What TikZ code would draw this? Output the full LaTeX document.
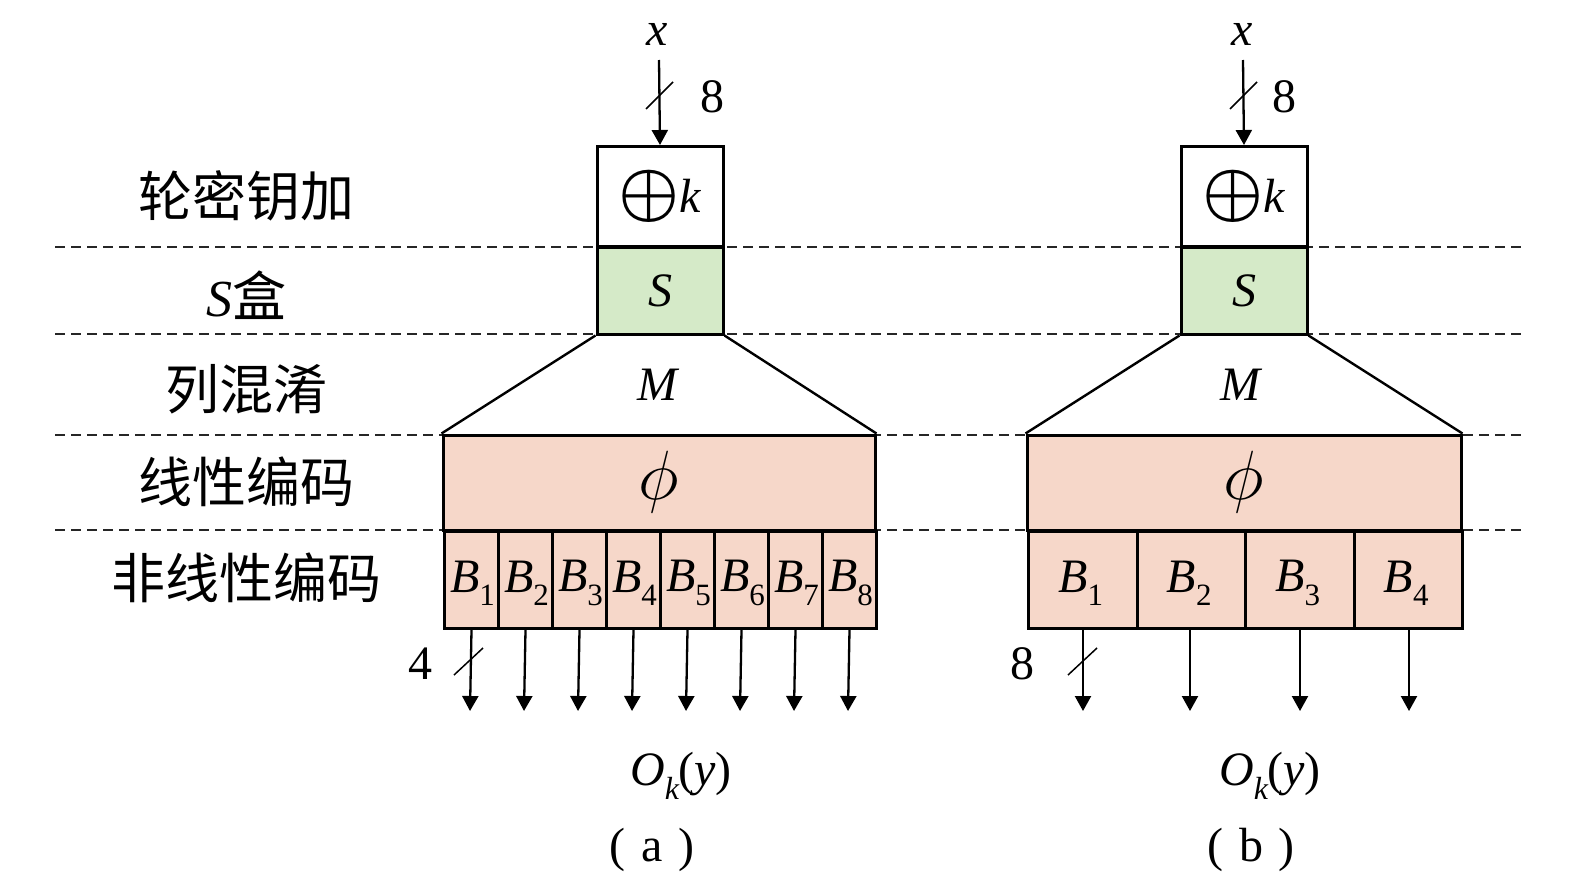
\documentclass[tikz,border=0pt]{standalone}
\usepackage{fontspec}
\setmainfont{Liberation Serif}
\newfontfamily\cjk{Noto Sans CJK SC}
\usetikzlibrary{arrows.meta}
\definecolor{sgreen}{RGB}{213,234,200}
\definecolor{salmon}{RGB}{246,215,201}
\newcommand{\fs}[1]{\fontsize{#1}{#1}\selectfont}
\newcommand{\Bsub}[2][31]{\textit{B}\raisebox{-0.28em}{\fs{#1}#2}}
\newcommand{\myoplus}{\raisebox{-0.03em}{\scalebox{2.75}{$\boldsymbol{\oplus}$}}}
\newcommand{\myphi}{\scalebox{2.8}{$\phi$}}
\usepackage{amsmath}
\begin{document}
\begin{tikzpicture}[x=1pt,y=-1pt,
  box/.style={draw=black,line width=3pt,inner sep=0pt,font=\fs{48}},
  sep/.style={draw=black!85,line width=2.5pt,dash pattern=on 10pt off 6pt},
  arr/.style={line width=2.3pt,-{Triangle[width=16pt,length=15pt]}},
  lab/.style={font=\cjk\fs{54},inner sep=0pt},
  txt/.style={font=\fs{48},inner sep=0pt}]
\useasboundingbox (0,0) rectangle (1575,886);
% layer separators
\foreach \yy in {247,334,435,530}
  \draw[sep] (55,\yy) -- (1522,\yy);
% layer labels
\node[lab] (l1) at (246,196) {轮密钥加};
\node[lab] (l2) at (246,295) {{\rmfamily\itshape\fs{52}S}盒};
\node[lab] (l3) at (246,389) {列混淆};
\node[lab] (l4) at (246,482) {线性编码};
\node[lab] (l5) at (246,578) {非线性编码};

% ---------- panel (a) ----------
\node[box,fill=white,minimum width=126pt,minimum height=100pt] (kA) at (660,196.5) {\myoplus\kern-1pt\textit{k}};
\node[box,fill=sgreen,minimum width=126pt,minimum height=87pt] (sA) at (660,290.5) {\textit{S}};
\node[box,fill=salmon,minimum width=432pt,minimum height=95pt] (pA) at (659,482.5) {\myphi};
\draw[line width=2.4pt] (sA.south west) -- (pA.north west);
\draw[line width=2.4pt] (sA.south east) -- (pA.north east);
\node[txt] (mA) at (659,385) {\textit{M}};
\foreach \i in {1,...,8}{
  \node[box,fill=salmon,minimum width=54pt,minimum height=97pt,anchor=north west] (bA\i) at ({443+(\i-1)*54},530) {};
  \node[txt] at ([xshift=1pt,yshift=-3pt]bA\i.center) {\Bsub{\i}};
  \coordinate (oA\i) at ({470+(\i-1)*54},711);
  \draw[arr] (bA\i.south) -- (oA\i);
}
\node[txt] (xA) at (657,34) {\textit{x}};
\coordinate (inA) at (kA.north);
\draw[arr] (659,60) -- (inA);
\draw[line width=1.5pt] (646,109) -- (673,82);
\node[txt] (nA) at (712,97) {8};
\draw[line width=1.5pt] (454,675) -- (483,648);
\node[txt] (fA) at (420,664) {4};
\node[txt] (OA) at (681,776) {\textit{O}\raisebox{-0.3em}{\fs{32}\textit{k}}\kern-1pt(\textit{y})};
\node[txt] (cA) at (652,850) {(\hspace{0.33em}a\hspace{0.33em})};

% ---------- panel (b) ----------
\node[box,fill=white,minimum width=126pt,minimum height=100pt] (kB) at (1244,196.5) {\myoplus\kern-1pt\textit{k}};
\node[box,fill=sgreen,minimum width=126pt,minimum height=87pt] (sB) at (1244,290.5) {\textit{S}};
\node[box,fill=salmon,minimum width=434pt,minimum height=95pt] (pB) at (1244,482.5) {\myphi};
\draw[line width=2.4pt] (sB.south west) -- (pB.north west);
\draw[line width=2.4pt] (sB.south east) -- (pB.north east);
\node[txt] (mB) at (1242,385) {\textit{M}};
\foreach \i in {1,...,4}{
  \node[box,fill=salmon,minimum width=108.5pt,minimum height=97pt,anchor=north west] (bB\i) at ({1027+(\i-1)*108.5},530) {};
  \node[txt] at ([xshift=-2pt,yshift=-3pt]bB\i.center) {\Bsub{\i}};
}
\coordinate (oB1) at (1083,711);
\coordinate (oB2) at (1190,711);
\coordinate (oB3) at (1300,711);
\coordinate (oB4) at (1409,711);
\foreach \i in {1,...,4}
  \draw[arr] (oB\i |- bB\i.south) -- (oB\i);
\node[txt] (xB) at (1242,34) {\textit{x}};
\coordinate (inB) at (kB.north);
\draw[arr] (1243,60) -- (inB);
\draw[line width=1.5pt] (1230,109) -- (1257,82);
\node[txt] (nB) at (1284,97) {8};
\draw[line width=1.5pt] (1068,675) -- (1097,648);
\node[txt] (fB) at (1022,664) {8};
\node[txt] (OB) at (1270,776) {\textit{O}\raisebox{-0.3em}{\fs{32}\textit{k}}\kern-1pt(\textit{y})};
\node[txt] (cB) at (1251,850) {(\hspace{0.33em}b\hspace{0.33em})};
\end{tikzpicture}
\end{document}
